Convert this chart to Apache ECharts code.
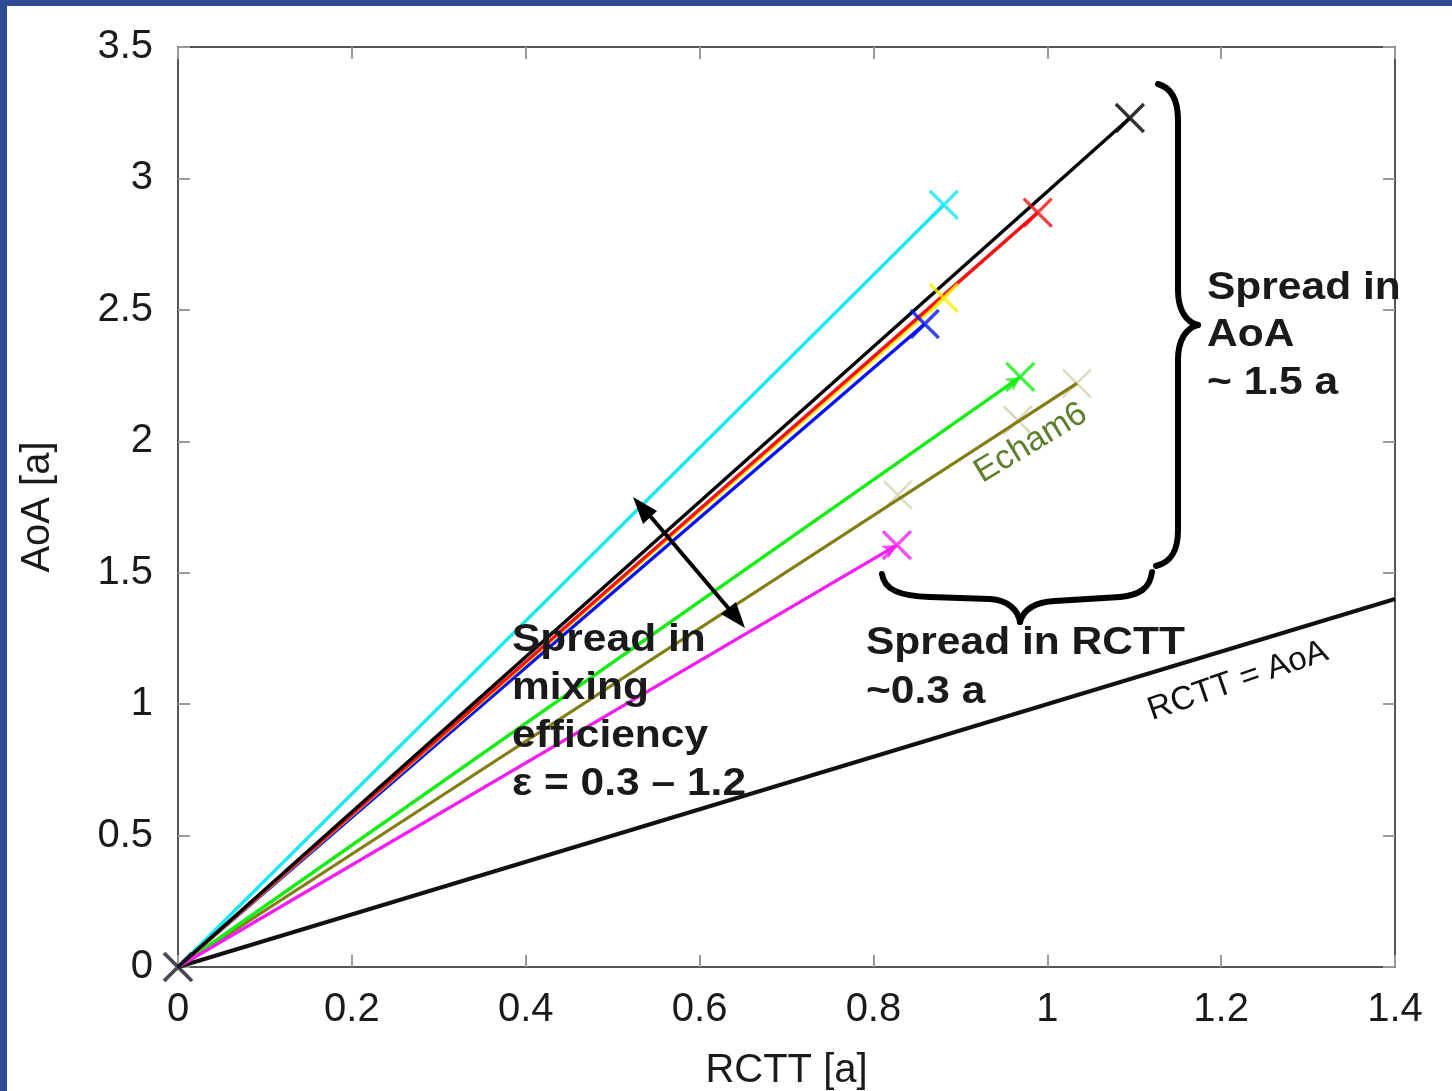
<!DOCTYPE html>
<html>
<head>
<meta charset="utf-8">
<script src="https://cdn.jsdelivr.net/npm/echarts@6/dist/echarts.min.js"></script>
<style>
html,body{margin:0;padding:0;background:#fff;}
#chart{width:1452px;height:1091px;}
</style>
</head>
<body>
<div id="chart"></div>
<script>
// ---- data (RCTT [a], AoA [a]) ----
var xTicks = [0, 0.2, 0.4, 0.6, 0.8, 1, 1.2, 1.4];
var yTicks = [0, 0.5, 1, 1.5, 2, 2.5, 3, 3.5];
var runNames   = ['cyan', 'blue', 'yellow', 'red', 'black'];
var runColors  = ['#17e9f0', '#0a14f0', '#f7f000', '#f51212', '#000000'];
var runEndRCTT = [0.881, 0.859, 0.881, 0.989, 1.095];
var runEndAoA  = [2.90, 2.446, 2.545, 2.87, 3.23];
var arrowNames  = ['green', 'magenta'];
var arrowColors = ['#15ee15', '#f51ef0'];
var arrowRCTT   = [0.969, 0.827];
var arrowAoA    = [2.245, 1.605];
var echamRCTT = [0.828, 0.966, 1.034];
var echamAoA  = [1.796, 2.08, 2.22];
var identityRCTT = [0, 1.4];
var identityAoA  = [0, 1.4];
var origin = [0, 0];

var FONT = 'Liberation Sans';
var X_PATH = 'path://M0,0L1,1M1,0L0,1';

var series = [];
series.push({
  type: 'line', name: 'RCTT = AoA',
  data: identityRCTT.map(function (v, i) { return [v, identityAoA[i]]; }),
  symbol: 'none', lineStyle: { color: '#111', width: 4 }, z: 3
});
series.push({
  type: 'line', name: 'Echam6',
  data: [origin, [echamRCTT[echamRCTT.length - 1], echamAoA[echamAoA.length - 1]]],
  symbol: 'none', lineStyle: { color: '#857c14', width: 3.2 }, z: 3
});
series.push({
  type: 'scatter', name: 'Echam6 pts',
  data: echamRCTT.map(function (v, i) { return [v, echamAoA[i]]; }),
  symbol: X_PATH, symbolSize: 28,
  itemStyle: { color: '#d5d2b2', borderColor: '#d5d2b2', borderWidth: 2.5 }, z: 2
});
arrowNames.forEach(function (n, i) {
  series.push({
    type: 'line', name: n,
    data: [origin, [arrowRCTT[i], arrowAoA[i]]],
    symbol: 'none', lineStyle: { color: arrowColors[i], width: 3.4 }, z: 4
  });
  series.push({
    type: 'scatter', name: n + ' end',
    data: [[arrowRCTT[i], arrowAoA[i]]],
    symbol: X_PATH, symbolSize: 28,
    itemStyle: { color: arrowColors[i], borderColor: arrowColors[i], borderWidth: 3.4 }, z: 5
  });
});
runNames.forEach(function (n, i) {
  series.push({
    type: 'line', name: n,
    data: [origin, [runEndRCTT[i], runEndAoA[i]]],
    symbol: 'none', lineStyle: { color: runColors[i], width: 3.4 }, z: 4
  });
  series.push({
    type: 'scatter', name: n + ' end',
    data: [[runEndRCTT[i], runEndAoA[i]]],
    symbol: X_PATH, symbolSize: 28,
    itemStyle: { color: runColors[i], borderColor: runColors[i], borderWidth: 3.4 }, z: 5
  });
});
series.push({
  type: 'scatter', name: 'origin', data: [origin],
  symbol: X_PATH, symbolSize: 28,
  itemStyle: { color: '#1a1a2a', borderColor: '#1a1a2a', borderWidth: 3.8 }, z: 6
});

function ax(extra) {
  var base = {
    type: 'value', splitLine: { show: false },
    axisLine: { show: true, onZero: false, lineStyle: { color: '#555', width: 2 } },
    axisTick: { show: true, inside: true, length: 12, lineStyle: { color: '#9a9a9a', width: 2 } }
  };
  for (var k in extra) base[k] = extra[k];
  return base;
}

// annotation braces built from bezier + line segments
var braceStyle = { fill: 'none', stroke: '#000', lineWidth: 6, lineCap: 'round' };
function bez(a, c1, c2, b) {
  return { type: 'bezierCurve', z: 50, style: braceStyle,
    shape: { x1: a[0], y1: a[1], cpx1: c1[0], cpy1: c1[1], cpx2: c2[0], cpy2: c2[1], x2: b[0], y2: b[1] } };
}
function seg(a, b) {
  return { type: 'line', z: 50, style: braceStyle, shape: { x1: a[0], y1: a[1], x2: b[0], y2: b[1] } };
}
var braceEls = [
  bez([1158, 84], [1172, 88], [1178, 100], [1178, 120]),
  seg([1178, 120], [1178, 290]),
  bez([1178, 290], [1178, 310], [1186, 322], [1198, 325]),
  bez([1198, 325], [1186, 328], [1178, 340], [1178, 360]),
  seg([1178, 360], [1178, 530]),
  bez([1178, 530], [1178, 550], [1172, 562], [1156, 566]),
  bez([882, 574], [884, 590], [900, 596], [930, 597]),
  seg([930, 597], [990, 599]),
  bez([990, 599], [1008, 600], [1018, 610], [1020, 622]),
  bez([1020, 622], [1024, 608], [1036, 602], [1055, 601]),
  seg([1055, 601], [1120, 597]),
  bez([1120, 597], [1140, 595], [1150, 588], [1152, 572])
];

var boldText = { fontFamily: FONT, fontWeight: 'bold', fontSize: 39, fill: '#1a1a1a', verticalAlign: 'top' };
function bt(x, y, text, lh) {
  var s = {}; for (var k in boldText) s[k] = boldText[k];
  s.text = text; s.lineHeight = lh;
  return { type: 'text', x: x, y: y, scaleX: 1.09, z: 60, style: s };
}

var graphics = [
  { type: 'rect', shape: { x: 0, y: 0, width: 1452, height: 6 }, style: { fill: '#2d4a92' }, z: 100 },
  { type: 'rect', shape: { x: 0, y: 0, width: 7, height: 1091 }, style: { fill: '#2d4a92' }, z: 100 },
  { type: 'line', shape: { x1: 645, y1: 510, x2: 735, y2: 616 }, style: { stroke: '#000', lineWidth: 4 }, z: 50 },
  { type: 'polygon', shape: { points: [[745, 628], [721, 614], [736, 602]] }, style: { fill: '#000' }, z: 50 },
  { type: 'polygon', shape: { points: [[633, 497], [643, 524], [657, 511]] }, style: { fill: '#000' }, z: 50 },
  bt(512, 616, 'Spread in\nmixing\nefficiency\nε = 0.3 – 1.2', 48),
  bt(866, 619, 'Spread in RCTT\n~0.3 a', 48.5),
  bt(1207, 264, 'Spread in\nAoA\n~ 1.5 a', 47.5),
  { type: 'text', x: 1031, y: 443, rotation: 31 * Math.PI / 180, z: 60,
    style: { text: 'Echam6', fontFamily: FONT, fontSize: 34, fill: '#5d7f2c', align: 'center', verticalAlign: 'middle' } },
  { type: 'text', x: 1238, y: 681, rotation: 19 * Math.PI / 180, z: 60,
    style: { text: 'RCTT = AoA', fontFamily: FONT, fontSize: 33, fill: '#111', align: 'center', verticalAlign: 'middle' } }
].concat(braceEls);

var option = {
  backgroundColor: '#ffffff',
  animation: false,
  grid: { left: 178, right: 57, top: 47, bottom: 124, containLabel: false, outerBoundsMode: 'none' },
  xAxis: [
    ax({ position: 'bottom', min: 0, max: 1.4, interval: 0.2,
      name: 'RCTT [a]', nameLocation: 'middle', nameGap: 84,
      nameTextStyle: { fontFamily: FONT, fontSize: 40, color: '#1a1a1a' },
      axisLabel: { fontFamily: FONT, fontSize: 40, color: '#1a1a1a', margin: 23 } }),
    ax({ position: 'top', min: 0, max: 1.4, interval: 0.2, axisLabel: { show: false } })
  ],
  yAxis: [
    ax({ position: 'left', min: 0, max: 3.5, interval: 0.5,
      name: 'AoA [a]', nameLocation: 'middle', nameGap: 120, nameRotate: 90,
      nameTextStyle: { fontFamily: FONT, fontSize: 40, color: '#1a1a1a' },
      axisLabel: { fontFamily: FONT, fontSize: 40, color: '#1a1a1a', margin: 25, padding: [10, 0, 0, 0] } }),
    ax({ position: 'right', min: 0, max: 3.5, interval: 0.5, axisLabel: { show: false } })
  ],
  series: series,
  graphic: graphics
};
var chart = echarts.init(document.getElementById('chart'));
chart.setOption(option);

// arrowheads at the ends of the green and magenta runs, oriented along the run
try {
  var heads = arrowNames.map(function (n, i) {
    var p0 = chart.convertToPixel({ gridIndex: 0 }, origin);
    var p1 = chart.convertToPixel({ gridIndex: 0 }, [arrowRCTT[i], arrowAoA[i]]);
    var ang = Math.atan2(-(p1[1] - p0[1]), p1[0] - p0[0]) * 180 / Math.PI;
    return {
      type: 'scatter', name: n + ' head', data: [[arrowRCTT[i], arrowAoA[i]]],
      symbol: 'arrow', symbolSize: [11, 14], symbolRotate: ang - 90,
      itemStyle: { color: arrowColors[i] }, z: 4
    };
  });
  chart.setOption({ series: series.concat(heads) });
} catch (e) { console.log(e); }
</script>
</body>
</html>
